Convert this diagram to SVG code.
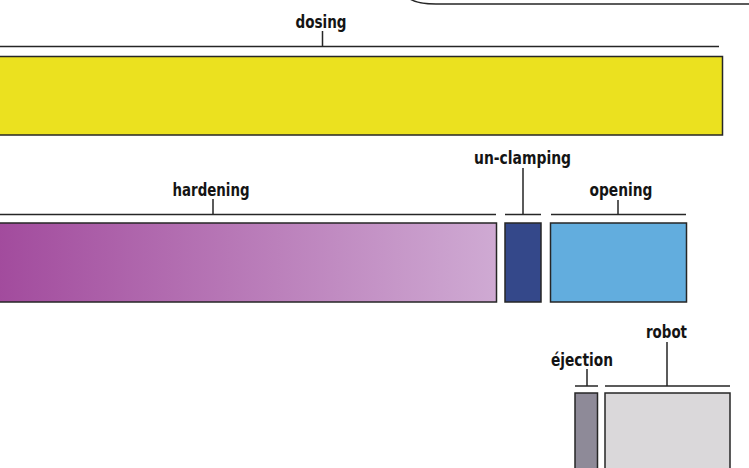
<svg xmlns="http://www.w3.org/2000/svg" width="749" height="468" viewBox="0 0 749 468">
  <style>
    .box { stroke: #262626; stroke-width: 1.5; }
    .lbl { font-family: "DejaVu Sans Condensed", "DejaVu Sans", sans-serif; font-weight: bold; font-size: 17.5px; fill: #141414; text-anchor: middle; }
    .br { stroke: #262626; stroke-width: 1.5; fill: none; }
  </style>
  <defs>
    <linearGradient id="hardGrad" x1="0" y1="0" x2="1" y2="0">
      <stop offset="0" stop-color="#A24B9D"/>
      <stop offset="1" stop-color="#CFAAD3"/>
    </linearGradient>
  </defs>
  <rect width="749" height="468" fill="#ffffff"/>
  <g id="frame">
    <path class="br" d="M 410 -1 Q 418 4 436 4 L 750 4"/>
  </g>
  <g id="connectors">
    <path class="br" d="M -1 46.5 H 719 M 322.5 31 V 46.5"/>
    <path class="br" d="M -1 214.5 H 496 M 213 199 V 214.5"/>
    <path class="br" d="M 505 214.5 H 541 M 523 168 V 214.5"/>
    <path class="br" d="M 551 214.5 H 686 M 618 200 V 214.5"/>
    <path class="br" d="M 575 386 H 598 M 587 369 V 386"/>
    <path class="br" d="M 605 386 H 730 M 667 342 V 386"/>
  </g>
  <g id="dosing">
    <rect class="box" x="-2" y="56.5" width="724.5" height="78.5" fill="#EBE11F"/>
    <text class="lbl" x="321" y="27.5" textLength="51" lengthAdjust="spacingAndGlyphs">dosing</text>
  </g>
  <g id="hardening">
    <rect class="box" x="-2" y="223" width="498.5" height="79" fill="url(#hardGrad)"/>
    <text class="lbl" x="211" y="195.5" textLength="77" lengthAdjust="spacingAndGlyphs">hardening</text>
  </g>
  <g id="un-clamping">
    <rect class="box" x="505" y="223" width="36" height="79" fill="#34488A"/>
    <text class="lbl" x="522.5" y="163.5" textLength="97" lengthAdjust="spacingAndGlyphs">un-clamping</text>
  </g>
  <g id="opening">
    <rect class="box" x="550.5" y="223" width="136" height="79" fill="#62ADDE"/>
    <text class="lbl" x="621" y="195.5" textLength="63" lengthAdjust="spacingAndGlyphs">opening</text>
  </g>
  <g id="ejection">
    <rect class="box" x="575" y="393" width="22.5" height="80" fill="#8E8A98"/>
    <text class="lbl" x="582" y="365.5" textLength="62" lengthAdjust="spacingAndGlyphs">éjection</text>
  </g>
  <g id="robot">
    <rect class="box" x="605" y="393" width="125" height="80" fill="#DAD8DA"/>
    <text class="lbl" x="666.5" y="337.5" textLength="41" lengthAdjust="spacingAndGlyphs">robot</text>
  </g>
</svg>
